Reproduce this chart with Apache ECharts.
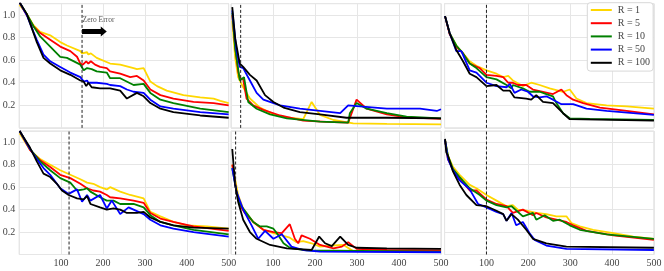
<!DOCTYPE html>
<html><head><meta charset="utf-8">
<script src="https://cdn.jsdelivr.net/npm/echarts@6/dist/echarts.min.js"></script>
<style>html,body{margin:0;padding:0;background:#fff}#c{width:664px;height:271px}</style>
</head><body><div id="c"></div>
<script>
// ---- data ----
const seriesNames = ['R = 1', 'R = 5', 'R = 10', 'R = 50', 'R = 100'];
const seriesColors = ['#FFD700', '#FF0000', '#008000', '#0000FF', '#000000'];
const xTicks = [100, 200, 300, 400, 500];
const yTicks = [0.2, 0.4, 0.6, 0.8, 1.0];
const vlines = [150, 23, 100, 119, 11, 100];
const zeroErrorX = [150, 209];
const zeroErrorLabel = 'Zero Error';

// panel 1 (top-left)
const p1_r1 = [[1,1.09],[18,1.01],[34,0.91],[50,0.85],[74,0.82],[98,0.76],[114,0.73],[146,0.68],[150,0.66],[162,0.67],[165,0.65],[171,0.66],[185,0.62],[217,0.57],[241,0.56],[273,0.53],[281,0.52],[297,0.53],[313,0.41],[329,0.37],[352,0.33],[392,0.29],[432,0.27],[464,0.26],[480,0.24],[500,0.22]];
const p1_r5 = [[1,1.11],[18,1.0],[34,0.9],[50,0.84],[74,0.78],[98,0.72],[122,0.68],[138,0.63],[146,0.57],[152,0.56],[160,0.59],[165,0.57],[171,0.59],[181,0.56],[193,0.54],[209,0.53],[217,0.50],[241,0.48],[265,0.45],[281,0.46],[297,0.42],[313,0.34],[337,0.29],[368,0.26],[416,0.23],[464,0.22],[500,0.20]];
const p1_r10 = [[1,1.11],[18,1.01],[34,0.90],[50,0.81],[74,0.72],[98,0.63],[114,0.62],[146,0.56],[154,0.51],[162,0.53],[173,0.52],[185,0.50],[209,0.49],[217,0.44],[241,0.44],[273,0.38],[297,0.39],[313,0.31],[337,0.25],[368,0.22],[432,0.17],[500,0.14]];
const p1_r50 = [[1,1.11],[18,1.0],[34,0.85],[42,0.78],[58,0.65],[74,0.59],[98,0.54],[122,0.49],[146,0.45],[154,0.41],[162,0.42],[165,0.40],[185,0.40],[209,0.39],[217,0.38],[241,0.37],[257,0.34],[273,0.32],[297,0.31],[313,0.25],[337,0.19],[368,0.17],[432,0.14],[500,0.12]];
const p1_r100 = [[1,1.11],[18,1.01],[42,0.76],[58,0.62],[74,0.57],[98,0.51],[122,0.47],[146,0.42],[154,0.41],[160,0.37],[165,0.40],[173,0.36],[193,0.35],[217,0.35],[241,0.33],[257,0.26],[281,0.31],[297,0.28],[313,0.22],[337,0.17],[368,0.14],[432,0.11],[500,0.09]];

// panel 2 (top-middle)
const p2_r1 = [[3,0.95],[10,0.62],[17,0.45],[29,0.36],[45,0.26],[69,0.18],[101,0.12],[133,0.094],[172,0.077],[192,0.23],[212,0.115],[244,0.07],[291,0.04],[371,0.035],[500,0.032]];
const p2_r5 = [[3,1.0],[10,0.72],[17,0.50],[21,0.44],[29,0.43],[37,0.26],[53,0.20],[77,0.16],[117,0.11],[172,0.065],[228,0.053],[279,0.047],[299,0.25],[323,0.17],[371,0.12],[418,0.094],[500,0.08]];
const p2_r10 = [[3,1.02],[10,0.70],[21,0.42],[31,0.45],[41,0.23],[61,0.17],[93,0.12],[133,0.085],[212,0.056],[279,0.047],[283,0.13],[299,0.22],[323,0.17],[371,0.13],[418,0.10],[500,0.085]];
const p2_r50 = [[3,1.04],[13,0.69],[21,0.54],[29,0.53],[45,0.42],[61,0.31],[77,0.25],[117,0.20],[164,0.17],[212,0.15],[260,0.13],[279,0.20],[307,0.19],[371,0.17],[450,0.17],[490,0.15],[500,0.165]];
const p2_r100 = [[3,1.07],[10,0.79],[13,0.78],[21,0.57],[29,0.54],[45,0.47],[61,0.42],[81,0.29],[101,0.23],[125,0.18],[164,0.14],[212,0.12],[275,0.09],[371,0.09],[500,0.085]];

// panel 3 (top-right)
const p3_r1 = [[1,0.99],[12,0.84],[28,0.73],[44,0.66],[60,0.59],[76,0.55],[100,0.51],[124,0.48],[140,0.45],[152,0.46],[163,0.42],[187,0.37],[207,0.40],[227,0.38],[251,0.35],[283,0.32],[299,0.34],[315,0.26],[339,0.22],[387,0.20],[435,0.19],[500,0.17]];
const p3_r5 = [[1,0.99],[12,0.83],[28,0.72],[44,0.66],[60,0.57],[84,0.53],[100,0.47],[124,0.46],[140,0.45],[152,0.40],[163,0.40],[175,0.38],[195,0.38],[211,0.34],[235,0.32],[259,0.30],[279,0.34],[291,0.29],[307,0.25],[331,0.22],[371,0.18],[435,0.15],[500,0.12]];
const p3_r10 = [[1,0.99],[12,0.84],[28,0.73],[44,0.66],[60,0.57],[76,0.53],[100,0.45],[124,0.43],[148,0.38],[160,0.35],[163,0.38],[187,0.35],[203,0.32],[227,0.32],[243,0.30],[259,0.28],[267,0.22],[283,0.13],[299,0.085],[347,0.08],[500,0.07]];
const p3_r50 = [[1,0.99],[12,0.84],[28,0.68],[40,0.68],[60,0.51],[76,0.49],[100,0.40],[124,0.37],[148,0.36],[156,0.39],[167,0.31],[183,0.34],[199,0.32],[211,0.28],[227,0.27],[243,0.28],[259,0.25],[279,0.21],[307,0.21],[339,0.17],[387,0.15],[500,0.115]];
const p3_r100 = [[1,0.99],[12,0.84],[28,0.69],[44,0.59],[60,0.48],[76,0.45],[100,0.37],[124,0.38],[140,0.33],[156,0.33],[167,0.27],[195,0.26],[207,0.25],[219,0.29],[235,0.23],[259,0.22],[283,0.13],[299,0.077],[500,0.065]];

// panel 4 (bottom-left)
const p4_r1 = [[1,1.08],[26,0.93],[50,0.85],[74,0.80],[98,0.75],[122,0.71],[146,0.67],[162,0.64],[177,0.63],[193,0.60],[209,0.58],[217,0.60],[241,0.56],[265,0.53],[297,0.50],[313,0.38],[337,0.34],[368,0.29],[400,0.26],[448,0.25],[500,0.23]];
const p4_r5 = [[1,1.1],[26,0.93],[50,0.84],[74,0.78],[98,0.71],[122,0.68],[146,0.63],[162,0.59],[177,0.57],[193,0.56],[209,0.53],[217,0.51],[241,0.50],[273,0.48],[297,0.46],[313,0.37],[337,0.32],[368,0.29],[416,0.25],[500,0.21]];
const p4_r10 = [[1,1.1],[26,0.94],[50,0.83],[74,0.75],[98,0.68],[122,0.64],[138,0.57],[154,0.58],[162,0.59],[170,0.56],[193,0.51],[209,0.48],[225,0.48],[241,0.45],[273,0.45],[297,0.42],[313,0.35],[337,0.29],[368,0.26],[416,0.22],[500,0.18]];
const p4_r50 = [[1,1.1],[26,0.94],[42,0.85],[58,0.77],[74,0.71],[98,0.59],[118,0.54],[138,0.58],[150,0.47],[162,0.53],[170,0.48],[193,0.53],[209,0.41],[221,0.48],[241,0.36],[261,0.42],[273,0.40],[297,0.36],[313,0.31],[337,0.26],[368,0.23],[416,0.20],[500,0.16]];
const p4_r100 = [[1,1.1],[26,0.95],[42,0.83],[58,0.72],[74,0.69],[90,0.63],[102,0.57],[118,0.53],[138,0.50],[154,0.49],[162,0.52],[170,0.45],[193,0.42],[209,0.40],[225,0.41],[241,0.40],[257,0.37],[281,0.37],[297,0.38],[313,0.33],[337,0.29],[368,0.26],[416,0.24],[500,0.23]];

// panel 5 (bottom-middle)
const p5_r1 = [[3,0.80],[17,0.53],[29,0.41],[53,0.29],[77,0.22],[101,0.19],[121,0.17],[140,0.15],[156,0.11],[172,0.12],[192,0.10],[212,0.07],[244,0.08],[268,0.085],[291,0.03],[371,0.025],[500,0.025]];
const p5_r5 = [[3,0.80],[13,0.56],[21,0.44],[33,0.37],[53,0.29],[77,0.22],[101,0.20],[121,0.19],[140,0.27],[152,0.14],[160,0.10],[168,0.17],[188,0.14],[212,0.085],[244,0.055],[264,0.07],[279,0.11],[299,0.05],[371,0.04],[500,0.037]];
const p5_r10 = [[3,0.77],[13,0.56],[21,0.45],[37,0.37],[53,0.29],[69,0.25],[85,0.25],[101,0.23],[113,0.17],[125,0.10],[140,0.06],[180,0.037],[500,0.025]];
const p5_r50 = [[3,0.77],[13,0.56],[29,0.40],[49,0.26],[65,0.14],[81,0.21],[101,0.14],[121,0.18],[144,0.07],[172,0.04],[212,0.025],[500,0.02]];
const p5_r100 = [[3,0.94],[10,0.62],[17,0.47],[29,0.31],[45,0.20],[61,0.14],[93,0.085],[133,0.055],[192,0.04],[210,0.16],[224,0.10],[240,0.075],[260,0.16],[279,0.085],[299,0.06],[371,0.055],[500,0.05]];

// panel 6 (bottom-right)
const p6_r1 = [[1,1.02],[8,0.88],[20,0.78],[36,0.71],[60,0.62],[76,0.59],[100,0.53],[124,0.48],[148,0.43],[163,0.44],[175,0.40],[195,0.39],[219,0.37],[243,0.36],[267,0.34],[291,0.34],[303,0.28],[323,0.25],[355,0.22],[403,0.19],[451,0.16],[500,0.14]];
const p6_r5 = [[1,1.02],[8,0.85],[20,0.76],[36,0.68],[60,0.57],[76,0.57],[100,0.49],[124,0.45],[148,0.43],[163,0.37],[187,0.40],[211,0.35],[219,0.37],[243,0.33],[267,0.31],[291,0.29],[307,0.26],[339,0.21],[403,0.17],[500,0.13]];
const p6_r10 = [[1,1.02],[8,0.88],[20,0.76],[36,0.69],[60,0.59],[84,0.53],[100,0.48],[124,0.44],[148,0.42],[160,0.43],[187,0.34],[211,0.37],[219,0.31],[239,0.35],[259,0.30],[275,0.31],[299,0.26],[323,0.22],[387,0.18],[500,0.14]];
const p6_r50 = [[1,1.02],[8,0.85],[20,0.75],[36,0.66],[60,0.58],[80,0.45],[100,0.42],[124,0.38],[140,0.36],[148,0.30],[160,0.37],[171,0.26],[187,0.29],[203,0.19],[215,0.13],[243,0.08],[291,0.05],[500,0.04]];
const p6_r100 = [[1,1.03],[4,0.91],[8,0.88],[20,0.74],[36,0.62],[52,0.53],[76,0.44],[100,0.43],[124,0.39],[140,0.36],[148,0.30],[160,0.36],[175,0.31],[195,0.22],[211,0.14],[243,0.10],[291,0.07],[500,0.06]];

const panels = [
  [p1_r1, p1_r5, p1_r10, p1_r50, p1_r100],
  [p2_r1, p2_r5, p2_r10, p2_r50, p2_r100],
  [p3_r1, p3_r5, p3_r10, p3_r50, p3_r100],
  [p4_r1, p4_r5, p4_r10, p4_r50, p4_r100],
  [p5_r1, p5_r5, p5_r10, p5_r50, p5_r100],
  [p6_r1, p6_r5, p6_r10, p6_r50, p6_r100]
];

// ---- layout ----
const FONT = 'Liberation Serif';
const colLeft = [19.2, 231, 444.6];
const colWidth = [209.5, 210, 209.3];
const rowTop = [3.7, 131];
const rowHeight = [124.2, 123.5];
const X_MIN = 0, X_MAX = 500, Y_MIN = 0, Y_MAX = 1.1;

const grids = [], xAxes = [], yAxes = [], series = [];
for (let i = 0; i < 6; i++) {
  const r = Math.floor(i / 3), c = i % 3;
  grids.push({
    left: colLeft[c], top: rowTop[r], width: colWidth[c], height: rowHeight[r],
    show: true, borderColor: '#dcdcdc', borderWidth: 1, backgroundColor: '#fff',
    containLabel: false, outerBoundsMode: 'none'
  });
  xAxes.push({
    type: 'value', gridIndex: i, min: X_MIN, max: X_MAX, interval: 100,
    axisLine: { show: false }, axisTick: { show: false },
    splitLine: { show: true, lineStyle: { color: '#e6e6e6', width: 1 } },
    axisLabel: {
      show: r === 1, margin: 4, fontFamily: FONT, fontSize: 10, color: '#444',
      formatter: v => xTicks.indexOf(Math.round(v)) >= 0 ? String(Math.round(v)) : ''
    }
  });
  yAxes.push({
    type: 'value', gridIndex: i, min: Y_MIN, max: Y_MAX, interval: 0.2,
    axisLine: { show: false }, axisTick: { show: false },
    splitLine: { show: true, lineStyle: { color: '#e6e6e6', width: 1 } },
    axisLabel: {
      show: c === 0, margin: 4, fontFamily: FONT, fontSize: 10, color: '#444',
      formatter: v => yTicks.some(t => Math.abs(t - v) < 1e-6) ? v.toFixed(1) : ''
    }
  });
  panels[i].forEach((d, k) => {
    series.push({
      type: 'line', name: seriesNames[k], xAxisIndex: i, yAxisIndex: i,
      data: d, symbol: 'none', clip: true, animation: false,
      color: seriesColors[k],
      lineStyle: { color: seriesColors[k], width: 1.8 },
      z: 3 + k
    });
  });
  series.push({
    type: 'line', name: 'vline' + i, xAxisIndex: i, yAxisIndex: i,
    data: [[vlines[i], Y_MIN], [vlines[i], Y_MAX]], symbol: 'none', silent: true,
    animation: false, lineStyle: { color: '#222', width: 1, type: [3, 2] }, z: 10
  });
}

const chart = echarts.init(document.getElementById('c'), null, { renderer: 'canvas' });
chart.setOption({
  animation: false,
  backgroundColor: '#fff',
  grid: grids, xAxis: xAxes, yAxis: yAxes, series: series,
  legend: {
    data: seriesNames, orient: 'vertical', left: 587.3, top: 2.7,
    icon: 'rect', itemWidth: 21, itemHeight: 2, itemGap: 3.2,
    padding: [2.3, 3, 3.3, 3.5],
    backgroundColor: '#fff', borderColor: '#d8d8d8', borderWidth: 1, borderRadius: 3,
    textStyle: { fontFamily: FONT, fontSize: 10, lineHeight: 10, color: '#444', padding: [0, 0, 0, 1] },
    selectedMode: false
  }
});

// "Zero Error" annotation positioned from data coordinates of panel 1
const pStart = chart.convertToPixel({ gridIndex: 0 }, [zeroErrorX[0], 0.853]);
const pEnd = chart.convertToPixel({ gridIndex: 0 }, [zeroErrorX[1], 0.853]);
const pText = chart.convertToPixel({ gridIndex: 0 }, [zeroErrorX[0], 0.948]);
const cy = pStart[1], x0 = pStart[0], x1 = pEnd[0], hl = 6;
chart.setOption({
  graphic: [
    { type: 'text', left: pText[0] + 0.5, top: pText[1] - 4.5, z: 20,
      style: { text: zeroErrorLabel, fontFamily: FONT, fontSize: 7.5, fill: '#555' } },
    { type: 'polygon', z: 20,
      shape: { points: [[x0, cy - 2.5], [x1 - hl, cy - 2.5], [x1 - hl, cy - 5], [x1, cy], [x1 - hl, cy + 5], [x1 - hl, cy + 2.5], [x0, cy + 2.5]] },
      style: { fill: '#000' } }
  ]
});
</script></body></html>
